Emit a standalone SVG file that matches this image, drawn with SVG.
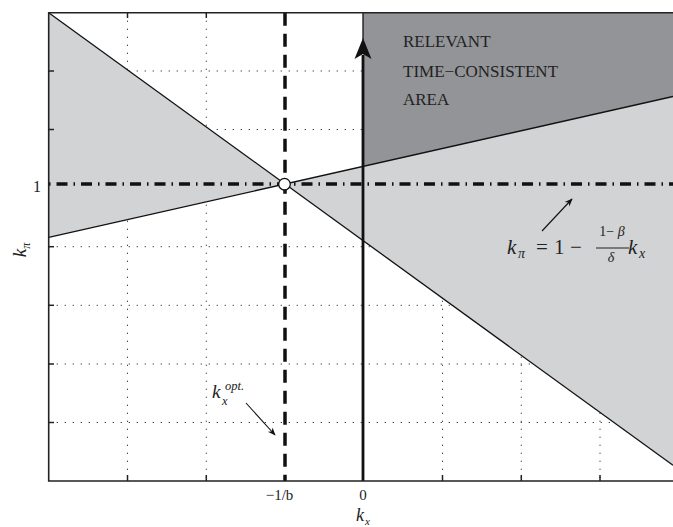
<svg xmlns="http://www.w3.org/2000/svg" width="673" height="527" viewBox="0 0 673 527">
<defs>
<style>
.grid{stroke:#333;stroke-width:1;stroke-dasharray:1.2 6.8;fill:none}
.bound{stroke:#111;stroke-width:1.3;fill:none}
.frame{stroke:#222;stroke-width:1.6;fill:none}
.tick{stroke:#222;stroke-width:1.5}
text{font-family:"Liberation Serif","DejaVu Serif","Times New Roman",serif;fill:#222}
.it{font-style:italic}
.ann{stroke:#111;stroke-width:1.1;fill:none}
</style>
<marker id="ah" viewBox="0 0 10 10" refX="9" refY="5" markerWidth="8" markerHeight="8" markerUnits="userSpaceOnUse" orient="auto">
<path d="M0,1 L10,5 L0,9 L3,5 Z" fill="#111"/>
</marker>
</defs>
<rect width="673" height="527" fill="#fff"/>
<g id="grid">
<line class="grid" x1="127.5" y1="12.7" x2="127.5" y2="481"/>
<line class="grid" x1="206.3" y1="12.7" x2="206.3" y2="481"/>
<line class="grid" x1="442.5" y1="12.7" x2="442.5" y2="481"/>
<line class="grid" x1="521.3" y1="12.7" x2="521.3" y2="481"/>
<line class="grid" x1="600" y1="12.7" x2="600" y2="481"/>
<line class="grid" x1="48.7" y1="71" x2="673" y2="71"/>
<line class="grid" x1="48.7" y1="129.5" x2="673" y2="129.5"/>
<line class="grid" x1="48.7" y1="246.7" x2="673" y2="246.7"/>
<line class="grid" x1="48.7" y1="305.3" x2="673" y2="305.3"/>
<line class="grid" x1="48.7" y1="364" x2="673" y2="364"/>
<line class="grid" x1="48.7" y1="422.5" x2="673" y2="422.5"/>
</g>
<g id="regions">
<polygon points="48.7,12.7 285,184 48.7,237.3" fill="#d2d3d5"/>
<polygon points="285,184 673,96.5 673,465.3" fill="#d2d3d5"/>
<polygon id="relevant-area" points="363,12.7 673,12.7 673,96.5 363,166.4" fill="#939498"/>
</g>
<g id="connectors">
<line class="bound" x1="48.7" y1="12.7" x2="673" y2="465.3"/>
<line class="bound" x1="48.7" y1="237.3" x2="673" y2="96.5"/>
<line x1="285" y1="12.7" x2="285" y2="481" stroke="#111" stroke-width="3.5" stroke-dasharray="13 8"/>
<line x1="49" y1="184" x2="673" y2="184" stroke="#111" stroke-width="3.3" stroke-dasharray="1.5 6 11 6"/>
<line x1="363" y1="12.7" x2="363" y2="40" stroke="#111" stroke-width="1.3"/>
<line x1="363" y1="55" x2="363" y2="481" stroke="#111" stroke-width="2.8"/>
<path d="M363,38 L371.5,59 L363,54 L354.5,59 Z" fill="#111"/>
<line class="ann" x1="542" y1="231" x2="572" y2="199" marker-end="url(#ah)"/>
<line class="ann" x1="246" y1="403" x2="275" y2="435" marker-end="url(#ah)"/>
</g>
<g id="frame">
<path class="frame" d="M673,12.7 H48.7 V481 H673"/>
<line class="tick" x1="48.7" y1="71" x2="54" y2="71"/>
<line class="tick" x1="48.7" y1="129.5" x2="54" y2="129.5"/>
<line class="tick" x1="48.7" y1="246.7" x2="54" y2="246.7"/>
<line class="tick" x1="48.7" y1="305.3" x2="54" y2="305.3"/>
<line class="tick" x1="48.7" y1="364" x2="54" y2="364"/>
<line class="tick" x1="48.7" y1="422.5" x2="54" y2="422.5"/>
<line class="tick" x1="127.5" y1="481" x2="127.5" y2="475"/>
<line class="tick" x1="206.3" y1="481" x2="206.3" y2="475"/>
<line class="tick" x1="442.5" y1="481" x2="442.5" y2="475"/>
<line class="tick" x1="521.3" y1="481" x2="521.3" y2="475"/>
<line class="tick" x1="600" y1="481" x2="600" y2="475"/>
<line class="tick" x1="127.5" y1="12.7" x2="127.5" y2="18"/>
<line class="tick" x1="206.3" y1="12.7" x2="206.3" y2="18"/>
</g>
<g id="node-intersection">
<circle cx="284.5" cy="184.2" r="5.8" fill="#fff" stroke="#111" stroke-width="1.3"/>
</g>
<g id="node-area-label" font-size="17">
<text x="403" y="47.3">RELEVANT</text>
<text x="403" y="76.7">TIME−CONSISTENT</text>
<text x="403" y="105.3">AREA</text>
</g>
<g id="node-formula">
<text x="507" y="254" font-size="21" class="it">k</text>
<text x="518" y="258" font-size="14" class="it">π</text>
<text x="536" y="254" font-size="21">=</text>
<text x="554" y="254" font-size="21">1</text>
<text x="570" y="254" font-size="21">−</text>
<text x="612" y="235.5" font-size="14" text-anchor="middle">1− <tspan class="it">β</tspan></text>
<line x1="596" y1="248" x2="629" y2="248" stroke="#222" stroke-width="1"/>
<text x="611" y="262" font-size="14" class="it" text-anchor="middle">δ</text>
<text x="628" y="254" font-size="21" class="it">k</text>
<text x="639" y="258" font-size="14" class="it">x</text>
</g>
<g id="node-kopt">
<text x="212" y="398" font-size="19" class="it">k</text>
<text x="222" y="405" font-size="12.5" class="it">x</text>
<text x="225" y="390" font-size="12.5" class="it">opt.</text>
</g>
<g id="axis-labels">
<text x="37" y="191.5" font-size="16" text-anchor="middle">1</text>
<text x="279.5" y="500" font-size="15" text-anchor="middle">−1/b</text>
<text x="363" y="500" font-size="15" text-anchor="middle">0</text>
<text x="356" y="521" font-size="18" class="it">k</text>
<text x="365" y="525" font-size="11" class="it">x</text>
<g transform="translate(26,250) rotate(-90)">
<text x="0" y="0" font-size="19" class="it" text-anchor="middle">k<tspan font-size="12" dy="4">π</tspan></text>
</g>
</g>
</svg>
